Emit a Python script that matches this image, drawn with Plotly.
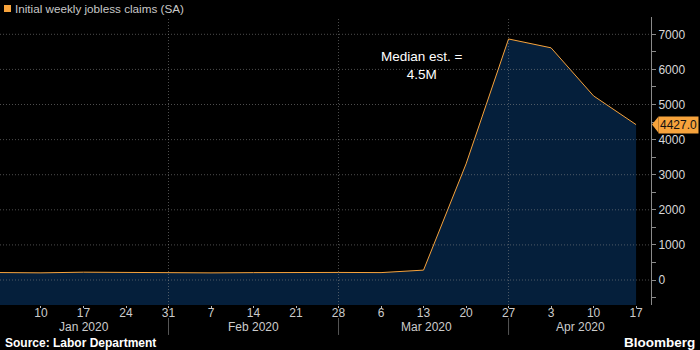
import plotly.graph_objects as go

# Weekly initial jobless claims, seasonally adjusted (thousands)
week_dates = [
    "2019-12-27", "2020-01-03", "2020-01-10", "2020-01-17", "2020-01-24",
    "2020-01-31", "2020-02-07", "2020-02-14", "2020-02-21", "2020-02-28",
    "2020-03-06", "2020-03-13", "2020-03-20", "2020-03-27", "2020-04-03",
    "2020-04-10", "2020-04-17",
]
claims = [
    222, 214, 204, 223, 216,
    201, 203, 210, 219, 216,
    211, 282, 3307, 6867, 6615,
    5245, 4427,
]

tick_dates = [
    "2020-01-10", "2020-01-17", "2020-01-24", "2020-01-31", "2020-02-07",
    "2020-02-14", "2020-02-21", "2020-02-28", "2020-03-06", "2020-03-13",
    "2020-03-20", "2020-03-27", "2020-04-03", "2020-04-10", "2020-04-17",
]
tick_labels = ["10", "17", "24", "31", "7", "14", "21", "28",
               "6", "13", "20", "27", "3", "10", "17"]

month_labels = ["Jan 2020", "Feb 2020", "Mar 2020", "Apr 2020"]
month_centers = ["2020-01-17 03:00", "2020-02-14", "2020-03-13 12:00", "2020-04-07 20:00"]
month_separators = ["2020-01-31", "2020-02-28", "2020-03-27"]

series_name = "Initial weekly jobless claims (SA)"
note_text = "Median est. =<br>4.5M"
last_value = claims[-1]

Y_MIN, Y_MAX = -712, 7493
X_RANGE = ["2020-01-03 06:00", "2020-04-19 11:00"]

FONT = "Liberation Sans"
ORANGE = "#f7a33c"
FILL = "rgb(5,31,59)"
GRID = "rgba(140,140,140,0.55)"

fig = go.Figure()

# baseline below the visible range so the area reaches the plot bottom
fig.add_trace(go.Scatter(
    x=week_dates, y=[Y_MIN - 500] * len(week_dates),
    mode="lines", line=dict(width=0), hoverinfo="skip", showlegend=False,
))
fig.add_trace(go.Scatter(
    x=week_dates, y=claims, mode="lines", name=series_name,
    line=dict(color=ORANGE, width=1), fill="tonexty", fillcolor=FILL,
    showlegend=False,
))

shapes = []
# horizontal dotted grid drawn above the area
for v in range(0, 8000, 1000):
    shapes.append(dict(type="line", xref="paper", yref="y", x0=0, x1=1, y0=v, y1=v,
                       line=dict(color=GRID, width=1, dash="1px,2px"), layer="above"))
# vertical dotted grid at month breaks, plus separators in the label band
for d in month_separators:
    shapes.append(dict(type="line", xref="x", yref="paper", x0=d, x1=d, y0=0, y1=1,
                       line=dict(color=GRID, width=1, dash="1px,2px"), layer="above"))
    shapes.append(dict(type="line", xref="x", yref="paper", x0=d, x1=d, y0=-0.045, y1=-0.104,
                       line=dict(color="#555555", width=1)))
# pointer of the last-value tag
shapes.append(dict(type="path", xref="paper", yref="y",
                   path=f"M 1.0015 {last_value} L 1.0115 {last_value + 230} "
                        f"L 1.0115 {last_value - 230} Z",
                   fillcolor=ORANGE, line=dict(width=0)))
# legend swatch
shapes.append(dict(type="rect", xref="paper", yref="paper",
                   x0=4 / 651, x1=11 / 651, y0=1 + 5 / 288, y1=1 + 12 / 288,
                   fillcolor=ORANGE, line=dict(width=0)))

annotations = [
    dict(text=series_name, xref="paper", yref="paper", x=13 / 651, y=1 + 8.5 / 288,
         xanchor="left", yanchor="middle", showarrow=False,
         font=dict(family=FONT, size=11.7, color="#c8c8c8")),
    dict(text=note_text, xref="x", yref="y", x="2020-03-12 16:00", y=6110,
         xanchor="center", yanchor="middle", showarrow=False,
         font=dict(family=FONT, size=13.5, color="#ffffff")),
    dict(text=f"{last_value:.1f}", xref="paper", yref="y", x=1.0105, y=last_value,
         xanchor="left", yanchor="middle", showarrow=False, bgcolor=ORANGE,
         borderpad=1, font=dict(family=FONT, size=12, color="#111111")),
    dict(text="<b>Source: Labor Department</b>", xref="paper", yref="paper",
         x=3 / 651, y=-38 / 288, xanchor="left", yanchor="middle", showarrow=False,
         font=dict(family=FONT, size=12, color="#ffffff")),
    dict(text="<b>Bloomberg</b>", xref="paper", yref="paper",
         x=697 / 651, y=-37 / 288, xanchor="right", yanchor="middle", showarrow=False,
         font=dict(family=FONT, size=13.5, color="#ffffff")),
]
for label, center in zip(month_labels, month_centers):
    annotations.append(dict(text=label, xref="x", yref="paper", x=center, y=-22 / 288,
                            xanchor="center", yanchor="middle", showarrow=False,
                            font=dict(family=FONT, size=12, color="#cccccc")))

fig.update_layout(
    width=700, height=350,
    margin=dict(l=0, r=49, t=17, b=45),
    paper_bgcolor="#000000", plot_bgcolor="#000000",
    showlegend=False,
    shapes=shapes, annotations=annotations,
    xaxis=dict(
        type="date", range=X_RANGE, tickvals=tick_dates, ticktext=tick_labels,
        showgrid=False, zeroline=False, showline=False,
        ticks="outside", ticklen=2, tickcolor="#bbbbbb",
        ticklabelstandoff=-5,
        tickfont=dict(family=FONT, size=12, color="#cccccc"),
    ),
    yaxis=dict(
        side="right", range=[Y_MIN, Y_MAX], tickvals=list(range(0, 8000, 1000)),
        showgrid=False, zeroline=False,
        showline=True, linecolor="#8a8a8a", linewidth=1,
        ticks="outside", ticklen=4, tickcolor="#8a8a8a",
        minor=dict(dtick=500, ticks="outside", ticklen=4, tickcolor="#8a8a8a", showgrid=False),
        tickfont=dict(family=FONT, size=12, color="#d8d8d8"),
    ),
)

fig.write_html("out.html")
